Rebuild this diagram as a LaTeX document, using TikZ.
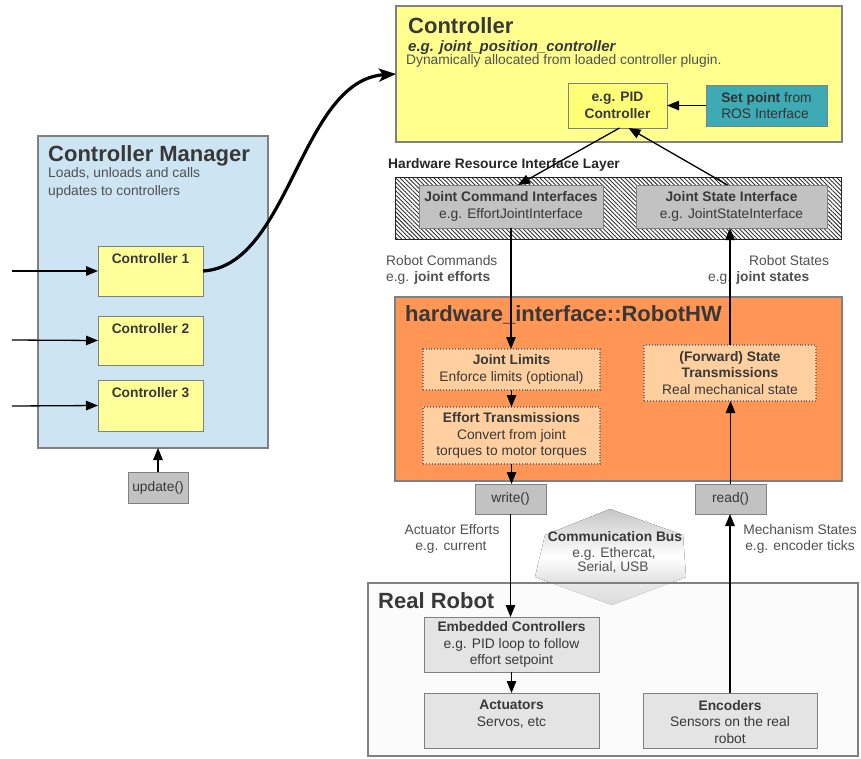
\documentclass[tikz,border=0pt]{standalone}
\usepackage{fontspec}
\setmainfont{Liberation Sans}
\usetikzlibrary{arrows.meta,patterns.meta}
\definecolor{ctrlyel}{HTML}{FFFF8E}
\definecolor{boxyel}{HTML}{FFFF99}
\definecolor{pidyel}{HTML}{FFFF77}
\definecolor{tealbox}{HTML}{3DAAB4}
\definecolor{cmblue}{HTML}{CDE5F3}
\definecolor{hworange}{HTML}{FF9656}
\definecolor{peach}{HTML}{FFCFA0}
\definecolor{grayfill}{HTML}{C2C2C2}
\definecolor{lightbox}{HTML}{E4E4E4}
\definecolor{robotbg}{HTML}{F6F6F6}
\definecolor{edge}{HTML}{808080}
\definecolor{txt}{HTML}{383838}
\definecolor{lbltxt}{HTML}{505050}
\newcommand\myTitleF{\fontsize{22}{26}\selectfont\bfseries}
\newcommand\myBodyF{\fontsize{13.8}{16.5}\selectfont}
\begin{document}
\begin{tikzpicture}[x=1pt,y=-1pt,
  panel/.style={draw=edge, line width=1.2pt, anchor=north west, inner sep=0pt, outer sep=0pt},
  ibox/.style={draw=edge, line width=0.9pt, anchor=north west, inner sep=0pt, outer sep=0pt, align=center, font=\myBodyF, text=txt},
  dotbox/.style={ibox, draw=black!55, dotted, line width=1.1pt, fill=peach},
  toplbl/.style={anchor=north, inner sep=0pt, yshift=-7pt, align=center, font=\myBodyF, text=txt},
  bigtitle/.style={anchor=base west, inner sep=0pt, font=\myTitleF, text=txt},
  lbl/.style={inner sep=0pt, font=\myBodyF, text=lbltxt},
  arr/.style={line width=1.3pt, -{Triangle[length=12pt,width=9.5pt]}},
  thickarr/.style={line width=3.2pt, -{Stealth[length=17pt,width=13pt,inset=4pt]}}
]
\useasboundingbox (0,0) rectangle (861,758);

% ---------- Controller Manager ----------
\node[panel, fill=cmblue, minimum width=230pt, minimum height=312pt] (cm) at (38,136) {};
\node[bigtitle] (cmT) at (48,161) {Controller Manager};
\node[lbl, anchor=base west] (cmL1) at (48,177) {Loads, unloads and calls};
\node[lbl, anchor=base west] (cmL2) at (48,195) {updates to controllers};
\node[ibox, fill=boxyel, minimum width=105pt, minimum height=50pt,
      label={[toplbl, font=\myBodyF\bfseries]north:Controller 1}] (c1) at (98,246) {};
\node[ibox, fill=boxyel, minimum width=105pt, minimum height=49pt,
      label={[toplbl, font=\myBodyF\bfseries]north:Controller 2}] (c2) at (98,316) {};
\node[ibox, fill=boxyel, minimum width=105pt, minimum height=51pt,
      label={[toplbl, font=\myBodyF\bfseries]north:Controller 3}] (c3) at (98,380) {};
\node[ibox, fill=grayfill, minimum width=60pt, minimum height=31pt] (upd) at (128,472) {update()};
\coordinate (in1) at (12,271);
\coordinate (in2) at (12,340);
\coordinate (in3) at (12,406);

% ---------- Controller ----------
\node[panel, fill=ctrlyel, minimum width=446pt, minimum height=136pt] (ctrl) at (396,6) {};
\node[bigtitle] (ctrlT) at (408,33) {Controller};
\node[lbl, anchor=base west, text=txt, font=\fontsize{15}{18}\selectfont\bfseries\itshape] (ctrlE) at (408,51) {e.g. joint\_position\_controller};
\node[lbl, anchor=base west] (ctrlD) at (406,64) {Dynamically allocated from loaded controller plugin.};
\node[ibox, fill=pidyel, font=\myBodyF\bfseries, minimum width=99pt, minimum height=45pt] (pid) at (568,83) {e.g. PID\\Controller};
\node[ibox, fill=tealbox, align=left, text=black!80, minimum width=121pt, minimum height=41pt] (sp) at (706,85) {\textbf{Set point} from\\ROS Interface};

% ---------- Hardware Resource Interface Layer ----------
\node[lbl, anchor=base west, text=black!85, font=\myBodyF\bfseries] (hrilT) at (388,168) {Hardware Resource Interface Layer};
\node[panel, draw=black!85, line width=1pt, pattern={Lines[angle=-45,distance=3pt,line width=0.9pt]}, pattern color=black!80,
      minimum width=446pt, minimum height=62pt] (hril) at (395,177) {};
\node[ibox, fill=grayfill, minimum width=184pt, minimum height=43pt] (jci) at (419,185) {\textbf{Joint Command Interfaces}\\e.g. EffortJointInterface};
\node[ibox, fill=grayfill, minimum width=191pt, minimum height=43pt] (jsi) at (636,185) {\textbf{Joint State Interface}\\e.g. JointStateInterface};

\node[lbl, anchor=base west] (rcA) at (386,265) {Robot Commands};
\node[lbl, anchor=base west] (rcB) at (386,281) {e.g. \textbf{joint efforts}};
\node[lbl, anchor=base west] (rsA) at (749,265) {Robot States};
\node[lbl, anchor=base west] (rsB) at (708,281) {e.g. \textbf{joint states}};

% ---------- RobotHW ----------
\node[panel, fill=hworange, minimum width=447pt, minimum height=184pt] (hw) at (395,297) {};
\node[bigtitle] (hwT) at (405,321) {hardware\_interface::RobotHW};
\node[dotbox, minimum width=177pt, minimum height=41pt] (jl) at (423,349) {\textbf{Joint Limits}\\Enforce limits (optional)};
\node[dotbox, minimum width=177pt, minimum height=57pt] (et) at (423,407) {\textbf{Effort Transmissions}\\Convert from joint\\torques to motor torques};
\node[dotbox, minimum width=172pt, minimum height=56pt] (st) at (644,345) {\textbf{(Forward) State}\\\textbf{Transmissions}\\Real mechanical state};

\node[ibox, fill=grayfill, minimum width=71pt, minimum height=30pt] (wr) at (475,484) {write()};
\node[ibox, fill=grayfill, minimum width=71pt, minimum height=30pt] (rd) at (695,484) {read()};

\node[lbl, anchor=base] (aeA) at (452,534) {Actuator Efforts};
\node[lbl, anchor=base] (aeB) at (451,550) {e.g. current};
\node[lbl, anchor=base] (msA) at (800,534) {Mechanism States};
\node[lbl, anchor=base] (msB) at (800,550) {e.g. encoder ticks};

% ---------- Communication bus & Real Robot ----------
\fill[top color=gray!45, bottom color=gray!45, middle color=white]
  (610,509) -- (683,535) -- (686,577) -- (612,605) -- (535,577) -- (545,535) -- cycle;
\node[panel, fill=robotbg, fill opacity=0.45, draw opacity=1, minimum width=490pt, minimum height=173pt] (rr) at (368,583) {};
\node[lbl, anchor=base, text=txt, font=\myBodyF\bfseries] (cbA) at (615,541) {Communication Bus};
\node[lbl, anchor=base] (cbB) at (614,557) {e.g. Ethercat,};
\node[lbl, anchor=base] (cbC) at (613,571) {Serial, USB};
\node[bigtitle] (rrT) at (378,608) {Real Robot};
\node[ibox, fill=lightbox, minimum width=175pt, minimum height=55pt] (emb) at (424,617) {\textbf{Embedded Controllers}\\e.g. PID loop to follow\\effort setpoint};
\node[ibox, fill=lightbox, minimum width=175pt, minimum height=55pt,
      label={[toplbl]north:\textbf{Actuators}\\Servos, etc}] (act) at (424,693) {};
\node[ibox, fill=lightbox, minimum width=174pt, minimum height=55pt,
      label={[toplbl]north:\textbf{Encoders}\\Sensors on the real\\robot}] (enc) at (643,693) {};

% ---------- connectors ----------
\draw[thickarr] (c1.east) .. controls (290,266) and (300,80) .. (ctrl.west);
\draw[arr] (in1) -- (c1.west);
\draw[arr] (in2) -- (c2.west);
\draw[arr] (in3) -- (c3.west);
\draw[arr] (upd.north) -- (upd.north |- cm.south);
\draw[arr] (sp.west) -- (pid.east);
\draw[arr] ([xshift=2pt]pid.south) -- ([xshift=7pt]jci.north);
\draw[arr] ([xshift=-4pt]jsi.north) -- ([xshift=11pt]pid.south);
\draw[arr] (jci.south) -- (jci.south |- jl.north);
\draw[arr] (jl.south) -- (jl.south |- et.north);
\draw[arr] (et.south) -- (et.south |- wr.north);
\draw[arr] (wr.south) -- (wr.south |- emb.north);
\draw[arr] (emb.south) -- (emb.south |- act.north);
\draw[arr] (enc.north) -- (enc.north |- rd.south);
\draw[arr] (rd.north) -- (rd.north |- st.south);
\draw[arr] (st.north) -- (st.north |- jsi.south);
\end{tikzpicture}
\end{document}
